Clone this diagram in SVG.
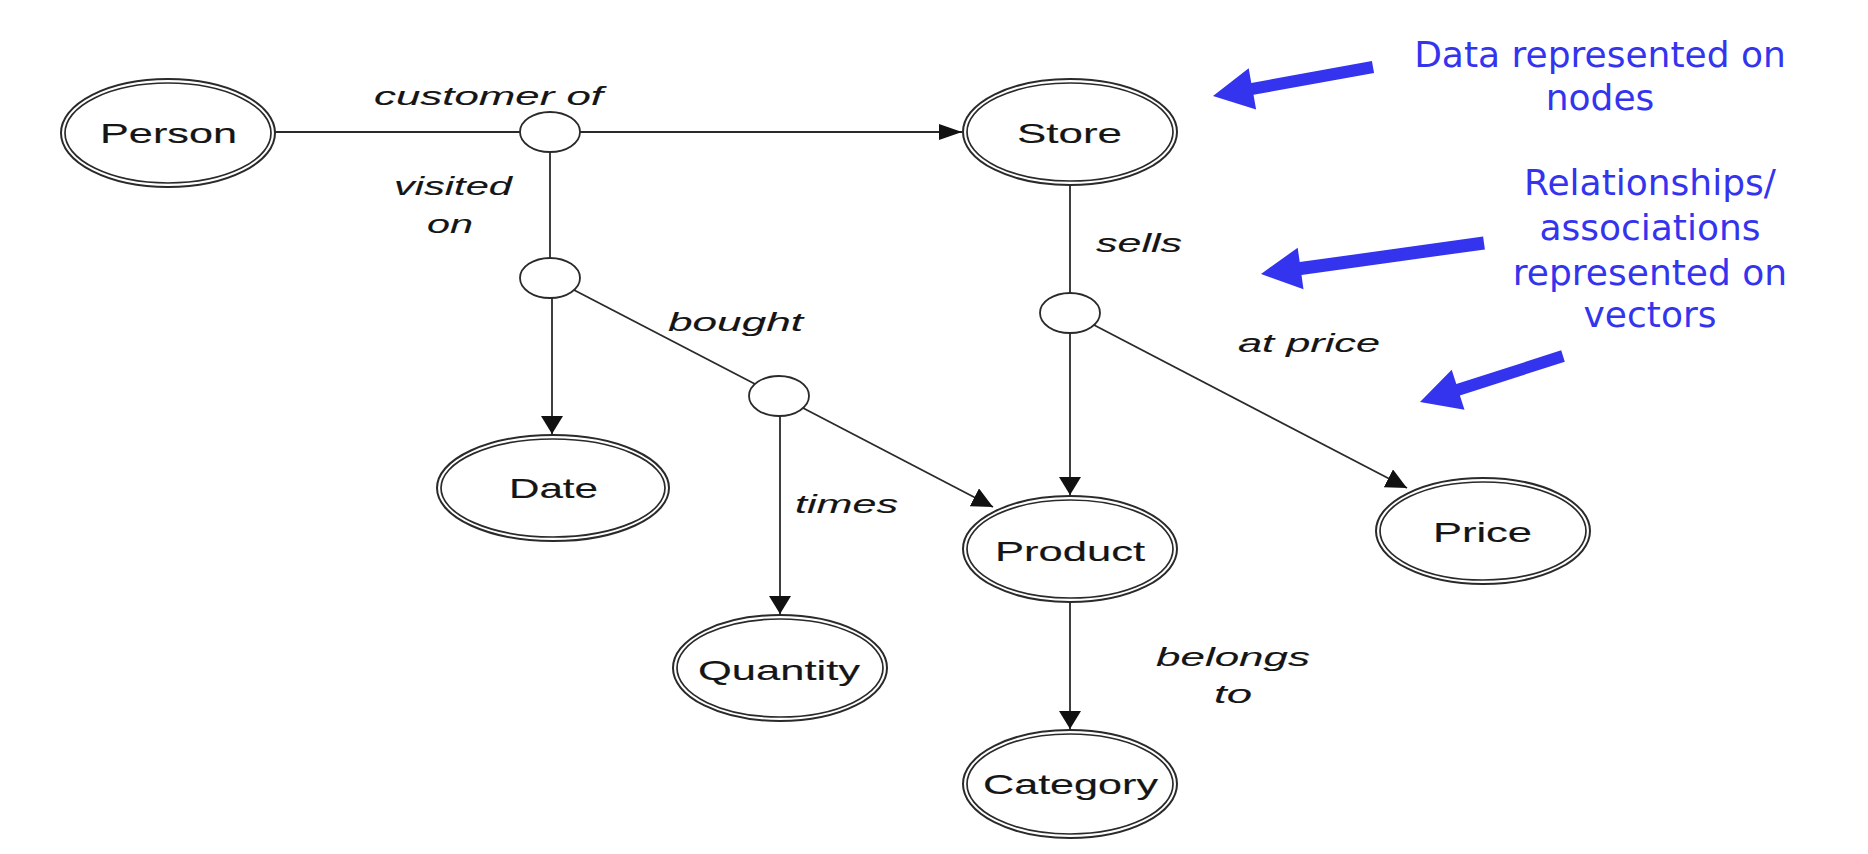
<svg xmlns="http://www.w3.org/2000/svg" width="1868" height="854" viewBox="0 0 1868 854">
<defs>
<style>
.outer{fill:#fff;stroke:#2a2a2a;stroke-width:2}
.inner{fill:none;stroke:#2a2a2a;stroke-width:1.7}
.rel{fill:#fff;stroke:#2a2a2a;stroke-width:1.8}
.edge{fill:none;stroke:#2a2a2a;stroke-width:1.8}
.nl{font-family:"Liberation Sans",Arial,sans-serif;font-size:28px;fill:#151515;stroke:#151515;stroke-width:0.15}
.el{font-family:"Liberation Sans",Arial,sans-serif;font-size:26px;font-style:italic;fill:#151515;stroke:#151515;stroke-width:0.1}
.note{font-family:"DejaVu Sans",Verdana,sans-serif;font-size:36px;fill:#3434ef;text-anchor:middle}
.barrow{fill:#3434ef}
</style>
<marker id="av" markerUnits="userSpaceOnUse" markerWidth="20" markerHeight="22" refX="18" refY="11" orient="auto"><path d="M0,0 L18,11 L0,22 z" fill="#111"/></marker>
<marker id="ah" markerUnits="userSpaceOnUse" markerWidth="24" markerHeight="16" refX="23" refY="8" orient="auto"><path d="M0,0 L23,8 L0,16 z" fill="#111"/></marker>
<marker id="ad" markerUnits="userSpaceOnUse" markerWidth="22" markerHeight="20" refX="21" refY="10" orient="auto"><path d="M0,0 L21,10 L0,20 z" fill="#111"/></marker>
</defs>
<rect width="1868" height="854" fill="#fff"/>

<g id="connectors">
<line class="edge" x1="275" y1="132" x2="520" y2="132"/>
<line class="edge" x1="580" y1="132" x2="962" y2="132" marker-end="url(#ah)"/>
<line class="edge" x1="550" y1="152" x2="550" y2="258"/>
<line class="edge" x1="552" y1="298" x2="552" y2="434" marker-end="url(#av)"/>
<line class="edge" x1="574" y1="290" x2="755" y2="384"/>
<line class="edge" x1="803" y1="408" x2="993" y2="507" marker-end="url(#ad)"/>
<line class="edge" x1="780" y1="416" x2="780" y2="614" marker-end="url(#av)"/>
<line class="edge" x1="1070" y1="185" x2="1070" y2="293"/>
<line class="edge" x1="1070" y1="333" x2="1070" y2="495" marker-end="url(#av)"/>
<line class="edge" x1="1094" y1="325" x2="1407" y2="488" marker-end="url(#ad)"/>
<line class="edge" x1="1070" y1="602" x2="1070" y2="729" marker-end="url(#av)"/>
</g>

<g id="rel-customer"><ellipse class="rel" cx="550" cy="132" rx="30" ry="20"/></g>
<g id="rel-visited"><ellipse class="rel" cx="550" cy="278" rx="30" ry="20"/></g>
<g id="rel-bought"><ellipse class="rel" cx="779" cy="396" rx="30" ry="20"/></g>
<g id="rel-sells"><ellipse class="rel" cx="1070" cy="313" rx="30" ry="20"/></g>

<g id="node-person">
<ellipse class="outer" cx="168" cy="133" rx="107" ry="54"/>
<ellipse class="inner" cx="168" cy="133" rx="103" ry="50"/>
<text class="nl" x="100" y="143" textLength="137" lengthAdjust="spacingAndGlyphs">Person</text>
</g>
<g id="node-store">
<ellipse class="outer" cx="1070" cy="132" rx="107" ry="53"/>
<ellipse class="inner" cx="1070" cy="132" rx="103" ry="49"/>
<text class="nl" x="1017" y="143" textLength="105" lengthAdjust="spacingAndGlyphs">Store</text>
</g>
<g id="node-date">
<ellipse class="outer" cx="553" cy="488" rx="116" ry="53"/>
<ellipse class="inner" cx="553" cy="488" rx="112" ry="49"/>
<text class="nl" x="509" y="498" textLength="89" lengthAdjust="spacingAndGlyphs">Date</text>
</g>
<g id="node-product">
<ellipse class="outer" cx="1070" cy="549" rx="107" ry="53"/>
<ellipse class="inner" cx="1070" cy="549" rx="103" ry="49"/>
<text class="nl" x="995" y="561" textLength="150" lengthAdjust="spacingAndGlyphs">Product</text>
</g>
<g id="node-price">
<ellipse class="outer" cx="1483" cy="531" rx="107" ry="53"/>
<ellipse class="inner" cx="1483" cy="531" rx="103" ry="49"/>
<text class="nl" x="1433" y="542" textLength="99" lengthAdjust="spacingAndGlyphs">Price</text>
</g>
<g id="node-quantity">
<ellipse class="outer" cx="780" cy="668" rx="107" ry="53"/>
<ellipse class="inner" cx="780" cy="668" rx="103" ry="49"/>
<text class="nl" x="698" y="680" textLength="162" lengthAdjust="spacingAndGlyphs">Quantity</text>
</g>
<g id="node-category">
<ellipse class="outer" cx="1070" cy="784" rx="107" ry="54"/>
<ellipse class="inner" cx="1070" cy="784" rx="103" ry="50"/>
<text class="nl" x="983" y="794" textLength="175" lengthAdjust="spacingAndGlyphs">Category</text>
</g>

<g id="edge-labels">
<text class="el" x="374" y="105" textLength="229" lengthAdjust="spacingAndGlyphs">customer of</text>
<text class="el" x="394" y="195" textLength="118" lengthAdjust="spacingAndGlyphs">visited</text>
<text class="el" x="427" y="233" textLength="46" lengthAdjust="spacingAndGlyphs">on</text>
<text class="el" x="668" y="331" textLength="135" lengthAdjust="spacingAndGlyphs">bought</text>
<text class="el" x="795" y="513" textLength="103" lengthAdjust="spacingAndGlyphs">times</text>
<text class="el" x="1096" y="252" textLength="86" lengthAdjust="spacingAndGlyphs">sells</text>
<text class="el" x="1238" y="352" textLength="142" lengthAdjust="spacingAndGlyphs">at price</text>
<text class="el" x="1156" y="666" textLength="154" lengthAdjust="spacingAndGlyphs">belongs</text>
<text class="el" x="1214" y="703" textLength="38" lengthAdjust="spacingAndGlyphs">to</text>
</g>

<g id="note-nodes">
<text class="note" x="1600" y="67">Data represented on</text>
<text class="note" x="1600" y="110">nodes</text>
<polygon class="barrow" points="1213,96 1248.7,68.2 1251.3,83.0 1371.9,61.1 1374.1,72.9 1253.5,94.8 1256.1,109.6"/>
</g>
<g id="note-vectors">
<text class="note" x="1650" y="195">Relationships/</text>
<text class="note" x="1650" y="240">associations</text>
<text class="note" x="1650" y="285">represented on</text>
<text class="note" x="1650" y="327">vectors</text>
<polygon class="barrow" points="1261,274 1297.7,247.7 1299.7,262.1 1483.1,236.6 1484.9,249.4 1301.5,274.9 1303.5,289.3"/>
<polygon class="barrow" points="1420,402 1451.7,369.8 1456.3,384.1 1561.2,350.3 1564.8,361.7 1459.9,395.5 1464.5,409.8"/>
</g>
</svg>
